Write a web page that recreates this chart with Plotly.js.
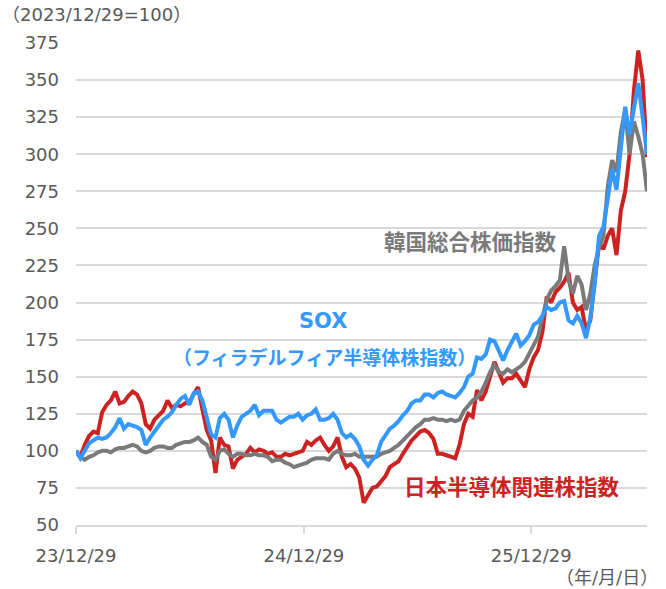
<!DOCTYPE html>
<html>
<head>
<meta charset="utf-8">
<script src="https://cdn.plot.ly/plotly-3.0.1.min.js"></script>
<style>html,body{margin:0;padding:0;background:#fff;}#chart{width:666px;height:589px;}</style>
</head>
<body>
<div id="chart"></div>
<script>
// Weekly observations starting 2023-12-29 (index = weeks since start)
const startDate = "2023-12-29";
const japanSemi = [100,96,104,110,113,112,126,131,134,140,132,133,137,140,138,132,118,115,121,124,
127,134,129,131,130,132,133,138,143,128,114,107,85,109,104,103,88,94,96,98,
102,99,101,100,98,99,96,96,98,97,98,99,100,106,104,107,109,104,100,103,
109,96,89,91,88,82,65,70,75,76,80,83,89,91,93,98,103,107,110,113,
114,112,108,98,98,97,96,95,104,118,125,123,141,134,140,150,160,153,146,149,
149,152,148,143,155,163,168,180,204,200,207,210,214,220,200,195,197,181,188,215,
240,236,245,250,232,262,275,300,343,370,350,298];
const sox = [100,95,100,105,107,109,108,109,112,116,122,115,118,117,116,114,104,109,113,117,
121,123,126,131,135,137,131,139,140,134,121,111,109,122,125,121,109,117,123,125,
127,131,124,127,127,127,121,119,121,123,123,125,121,124,125,128,121,121,122,125,
121,112,109,111,108,103,94,90,94,97,106,111,115,117,120,124,127,132,134,134,
138,138,136,139,140,138,137,136,139,143,150,152,163,162,165,175,174,168,161,168,
174,179,171,174,178,185,187,191,197,195,196,200,201,188,186,191,186,176,190,213,
245,251,270,290,276,305,332,313,330,348,325,300];
const kospi = [100,96,94,96,97,99,100,100,99,101,102,102,103,104,103,100,99,100,102,103,
103,102,102,104,105,106,106,107,109,106,104,96,94,100,101,98,96,98,98,97,
97,98,97,97,96,93,94,94,92,91,89,90,91,92,94,95,95,95,94,98,
100,98,97,97,98,96,96,96,96,96,98,99,100,102,104,107,110,113,116,118,
121,121,122,121,121,120,121,120,121,127,131,134,136,140,146,153,158,153,152,155,
153,155,157,160,166,172,177,190,202,208,211,215,238,215,206,218,212,195,206,225,
237,245,278,296,288,315,330,300,322,312,300,275];

const tickVals = ["2023-12-29","2024-12-29","2025-12-29"];
const tickText = ["23/12/29","24/12/29","25/12/29"];
const yTicks = [50,75,100,125,150,175,200,225,250,275,300,325,350,375];

const seriesNames = ["日本半導体関連株指数","韓国総合株価指数","SOX"];
const colors = {red:"#CC2222", gray:"#7A7A7A", blue:"#3399FF"};

function weekDates(start, n){
  const out=[]; const d0=new Date(start+"T00:00:00Z");
  for(let i=0;i<n;i++){ const d=new Date(d0.getTime()+i*7*86400000); out.push(d.toISOString().slice(0,10)); }
  return out;
}
const dates = weekDates(startDate, japanSemi.length);

const FONT = "DejaVu Sans, 'Noto Sans CJK JP', sans-serif";
const JFONT = "'Noto Sans CJK JP', 'DejaVu Sans', sans-serif";

const traces = [
  {x:dates, y:japanSemi, name:seriesNames[0], type:"scatter", mode:"lines", line:{color:colors.red, width:4}},
  {x:dates, y:kospi, name:seriesNames[1], type:"scatter", mode:"lines", line:{color:colors.gray, width:4}},
  {x:dates, y:sox, name:seriesNames[2], type:"scatter", mode:"lines", line:{color:colors.blue, width:4}}
];

// pixel helpers for annotations (paper coordinates)
const L=76, R=19, T=43, B=64, W=666, H=589;
const pw=W-L-R, ph=H-T-B;
const px=(x)=>(x-L)/pw, py=(y)=>(H-B-y)/ph;

const layout = {
  width:W, height:H,
  margin:{l:L, r:R, t:T, b:B, pad:0},
  paper_bgcolor:"#fff", plot_bgcolor:"#fff",
  showlegend:false,
  font:{family:FONT, size:18, color:"#595959"},
  xaxis:{
    type:"date", range:[dates[0], dates[dates.length-1]],
    tickmode:"array", tickvals:tickVals, ticktext:tickText,
    showgrid:false, zeroline:false,
    showline:true, linecolor:"#D9D9D9", linewidth:2,
    ticks:"outside", ticklen:7, tickwidth:2, tickcolor:"#D9D9D9",
    ticklabelstandoff:6,
    tickfont:{family:FONT, size:18, color:"#595959"}
  },
  yaxis:{
    range:[50,375], tickmode:"array", tickvals:yTicks,
    showgrid:true, gridcolor:"#D9D9D9", gridwidth:2,
    zeroline:false, showline:false, ticks:"",
    ticklabelstandoff:16,
    tickfont:{family:FONT, size:18, color:"#595959"}
  },
  annotations:[
    {text:"（2023/12/29=100）", xref:"paper", yref:"paper", x:px(0), y:py(15), xanchor:"left", yanchor:"middle", showarrow:false, font:{family:FONT, size:18, color:"#595959"}},
    {text:"（年/月/日）", xref:"paper", yref:"paper", x:px(660), y:py(577), xanchor:"right", yanchor:"middle", showarrow:false, font:{family:FONT, size:18, color:"#595959"}},
    {text:"<b>韓国総合株価指数</b>", xref:"paper", yref:"paper", x:px(470), y:py(240), xanchor:"center", yanchor:"middle", showarrow:false, font:{family:JFONT, size:21.5, color:colors.gray}},
    {text:"<b>SOX</b>", xref:"paper", yref:"paper", x:px(323), y:py(321), xanchor:"center", yanchor:"middle", showarrow:false, font:{family:FONT, size:21, color:colors.blue}},
    {text:"<b>（フィラデルフィア半導体株指数）</b>", xref:"paper", yref:"paper", x:px(324), y:py(356), xanchor:"center", yanchor:"middle", showarrow:false, font:{family:JFONT, size:19, color:colors.blue}},
    {text:"<b>日本半導体関連株指数</b>", xref:"paper", yref:"paper", x:px(512), y:py(485), xanchor:"center", yanchor:"middle", showarrow:false, font:{family:JFONT, size:21.5, color:colors.red}}
  ]
};

Plotly.newPlot("chart", traces, layout, {staticPlot:true, displayModeBar:false});
</script>
</body>
</html>
